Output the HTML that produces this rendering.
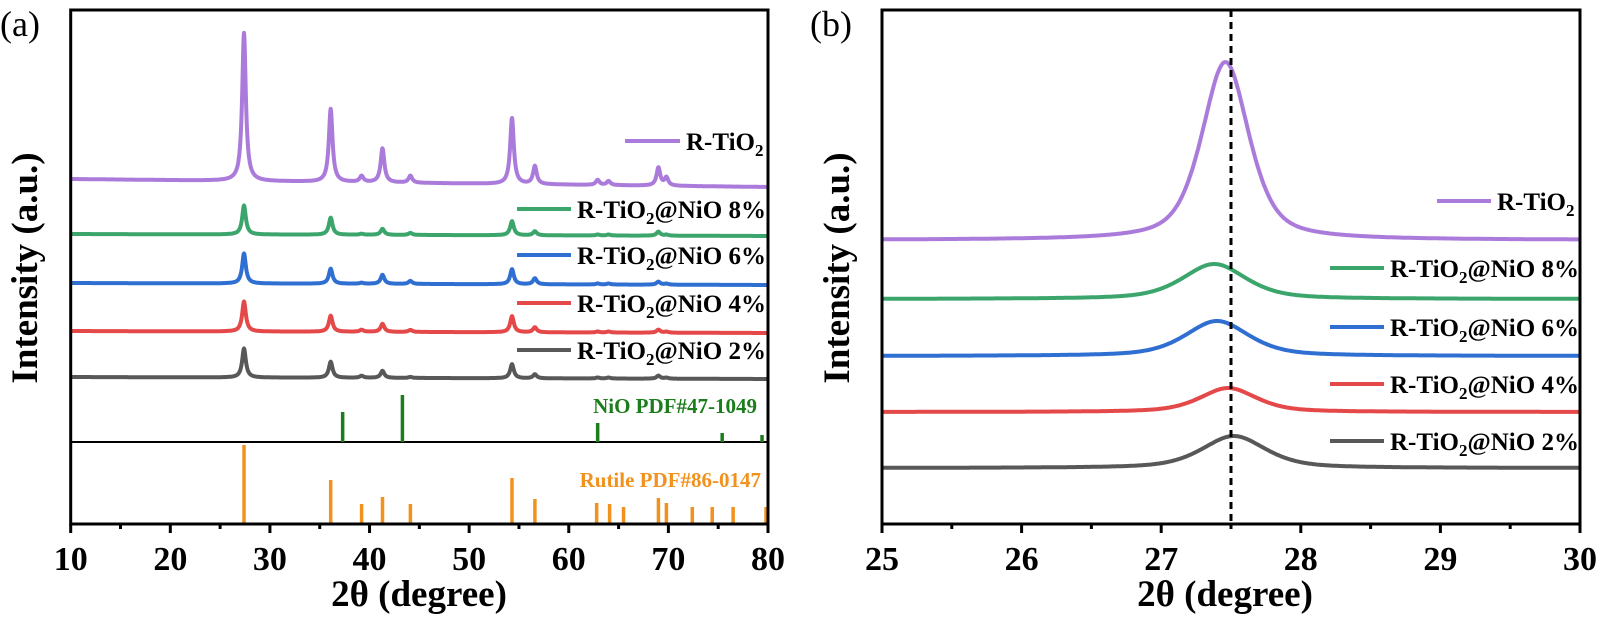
<!DOCTYPE html>
<html><head><meta charset="utf-8">
<style>
html,body{margin:0;padding:0;background:#fff;}
</style></head>
<body>
<svg id="fig" width="1600" height="618" viewBox="0 0 1600 618" xmlns="http://www.w3.org/2000/svg"></svg>
<script>
// ---------- Panel (a) data ----------
const aLabels = ["R-TiO2","R-TiO2@NiO 8%","R-TiO2@NiO 6%","R-TiO2@NiO 4%","R-TiO2@NiO 2%"];
const aColors = ["#ab7bdc","#3ba56c","#2f6fd2","#e44848","#585858"];
const aPeakPos = [27.4, 36.1, 39.2, 41.3, 44.1, 54.3, 56.6, 62.9, 64.0, 69.0, 69.8];
const aBaseStart = [345, 290, 241, 193, 147];
const aBaseEnd = [337, 288, 239, 191, 145];
const aHeights = [
  [148, 73, 6, 34, 7, 66, 18, 5, 4, 18, 8],
  [29, 17, 1, 6, 2, 14, 4, 1, 1, 4, 1],
  [30, 15, 1, 9, 3, 15, 6, 1, 1, 3, 1],
  [30, 16, 2, 8, 2, 16, 5, 1, 1, 3, 1],
  [29, 16, 2, 7, 1, 14, 4, 1, 1, 3, 1]
];
const nioPos = [37.3, 43.3, 62.9, 75.4, 79.4];
const nioInt = [30, 47, 19, 9, 7];
const rutPos = [27.4, 36.1, 39.2, 41.3, 44.1, 54.3, 56.6, 62.8, 64.1, 65.5, 69.0, 69.8, 72.4, 74.4, 76.5, 79.8];
const rutInt = [79, 44, 20, 27, 20, 46, 25, 21, 20, 17, 26, 21, 17, 17, 17, 17];
const aTicks = [10,20,30,40,50,60,70,80];
// ---------- Panel (b) data ----------
const bBase = [284, 225, 168, 112, 56];
const bCenter = [27.46, 27.38, 27.4, 27.48, 27.52];
const bHeight = [178, 35, 35, 24, 32];
const bWidth = [0.2, 0.27, 0.27, 0.24, 0.27];
const bTicks = [25,26,27,28,29,30];

const NS = "http://www.w3.org/2000/svg";
const svg = document.getElementById("fig");
function mk(tag, attrs, parent, text){
  const e = document.createElementNS(NS, tag);
  for (const k in attrs) e.setAttribute(k, attrs[k]);
  if (tag === "text") {
    const bold = attrs["font-weight"] === "bold";
    e.removeAttribute("font-weight");
    e.removeAttribute("font-size");
    e.setAttribute("style", "font-family:'Liberation Serif','Times New Roman',serif;font-size:" + attrs["font-size"] + "px;font-weight:" + (bold ? "bold" : "normal") + ";");
  }
  if (text !== undefined) e.textContent = text;
  (parent || svg).appendChild(e);
  return e;
}
const yTop = 10, yBot = 524;
function yS(v){ return yBot - v; }

function legendText(g, x, y, label){
  const t = mk("text", {x:x, y:y, "font-size":25, "font-weight":"bold", fill:"#000"}, g);
  const m = label.match(/^R-TiO2(.*)$/);
  const s1 = document.createElementNS(NS,"tspan"); s1.textContent = "R-TiO"; t.appendChild(s1);
  const s2 = document.createElementNS(NS,"tspan"); s2.textContent = "2"; s2.setAttribute("style","font-size:17px"); s2.setAttribute("dy","6"); t.appendChild(s2);
  if (m[1]) { const s3 = document.createElementNS(NS,"tspan"); s3.textContent = m[1]; s3.setAttribute("dy","-6"); t.appendChild(s3); }
  return t;
}

function axes(g, x0, x1, ticks, xs, minorStep, tickLabelY){
  mk("rect", {x:x0, y:yTop, width:x1-x0, height:yBot-yTop, fill:"none", stroke:"#000", "stroke-width":3}, g);
  const first = ticks[0], last = ticks[ticks.length-1];
  for (let v = first; v <= last + 1e-9; v += minorStep){
    const major = ticks.some(t => Math.abs(t - v) < 1e-6);
    const x = xs(v);
    const tk = mk("line", {x1:x, x2:x, y1:yBot, y2:yBot + (major ? 9 : 5), stroke:"#000", "stroke-width":3}, g);
    
    
  }
  ticks.forEach(t => {
    const lb = mk("text", {x:xs(t), y:tickLabelY, "text-anchor":"middle", "font-size":34, "font-weight":"bold"}, g, String(t));
    
    
  });
}
function pv(x, c, w){ const d = (x - c) / w; return 0.55 / (1 + d*d) + 0.45 * Math.exp(-0.693 * d * d); }
function lor(x, c, w){ const d = (x - c) / w; return 1 / (1 + d*d); }

// ---------- Panel (a) ----------
const gA = mk("g", {});
const xa0 = 70.7, xa1 = 768;
const xA = v => xa0 + (v - 10) * (xa1 - xa0) / 70;
aLabels.forEach((lab, i) => {
  let d = "";
  for (let x = 10; x <= 80.0001; x += 0.03){
    const f = (x - 10) / 70;
    let v = aBaseStart[i] + (aBaseEnd[i] - aBaseStart[i]) * f;
    aPeakPos.forEach((p, k) => { v += aHeights[i][k] * lor(x, p, 0.22); });
    d += (d ? "L" : "M") + xA(x).toFixed(1) + "," + yS(v).toFixed(1);
  }
  const p = mk("path", {d:d, fill:"none", stroke:aColors[i], "stroke-width":4, "stroke-linejoin":"round"}, gA);
  
  
});
mk("line", {x1:xa0, x2:xa1, y1:442, y2:442, stroke:"#000", "stroke-width":2, }, gA);
nioPos.forEach((p, k) => {
  const l = mk("line", {x1:xA(p), x2:xA(p), y1:442, y2:442 - nioInt[k], stroke:"#1c7d1c", "stroke-width":3.5}, gA);
  
  
});
rutPos.forEach((p, k) => {
  const l = mk("line", {x1:xA(p), x2:xA(p), y1:yBot, y2:yBot - rutInt[k], stroke:"#f2921e", "stroke-width":3.5}, gA);
  
  
});
mk("text", {x:757, y:413, "text-anchor":"end", "font-size":21, "font-weight":"bold", fill:"#1c7d1c", }, gA, "NiO PDF#47-1049");
mk("text", {x:761, y:487, "text-anchor":"end", "font-size":21, "font-weight":"bold", fill:"#f2921e", }, gA, "Rutile PDF#86-0147");
axes(gA, xa0, xa1, aTicks, xA, 5, 570);
const aLegY = [141, 209, 255, 303, 350];
const aLegX = [[625, 680, 686], [517, 571, 577], [517, 571, 577], [517, 571, 577], [517, 571, 577]];
aLabels.forEach((lab, i) => {
  const g = mk("g", {}, gA);
  mk("line", {x1:aLegX[i][0], x2:aLegX[i][1], y1:aLegY[i], y2:aLegY[i], stroke:aColors[i], "stroke-width":4}, g);
  legendText(g, aLegX[i][2], aLegY[i] + 9, lab);
});
mk("text", {x:0, y:36, "font-size":36, }, gA, "(a)");
mk("text", {x:419, y:606, "text-anchor":"middle", "font-size":37, "font-weight":"bold", }, gA, "2θ (degree)");
mk("text", {x:0, y:0, transform:"translate(37,268) rotate(-90)", "text-anchor":"middle", "font-size":37, "font-weight":"bold", }, gA, "Intensity (a.u.)");

// ---------- Panel (b) ----------
const gB = mk("g", {});
const xb0 = 882, xb1 = 1580;
const xB = v => xb0 + (v - 25) * (xb1 - xb0) / 5;
aLabels.forEach((lab, i) => {
  let d = "";
  for (let x = 25; x <= 30.0001; x += 0.008){
    const v = bBase[i] + bHeight[i] * pv(x, bCenter[i], bWidth[i]);
    d += (d ? "L" : "M") + xB(x).toFixed(1) + "," + yS(v).toFixed(1);
  }
  const p = mk("path", {d:d, fill:"none", stroke:aColors[i], "stroke-width":4, "stroke-linejoin":"round"}, gB);
  
  
});
mk("line", {x1:xB(27.5), x2:xB(27.5), y1:yTop, y2:yBot, stroke:"#000", "stroke-width":3, "stroke-dasharray":"7,5", }, gB);
axes(gB, xb0, xb1, bTicks, xB, 0.5, 570);
const bLegY = [201, 268, 327, 384, 441];
const bLegX = [[1437, 1491, 1497], [1330, 1384, 1390], [1330, 1384, 1390], [1330, 1384, 1390], [1330, 1384, 1390]];
aLabels.forEach((lab, i) => {
  const g = mk("g", {}, gB);
  mk("line", {x1:bLegX[i][0], x2:bLegX[i][1], y1:bLegY[i], y2:bLegY[i], stroke:aColors[i], "stroke-width":4}, g);
  legendText(g, bLegX[i][2], bLegY[i] + 9, lab);
});
mk("text", {x:810, y:36, "font-size":36, }, gB, "(b)");
mk("text", {x:1225, y:606, "text-anchor":"middle", "font-size":37, "font-weight":"bold", }, gB, "2θ (degree)");
mk("text", {x:0, y:0, transform:"translate(849,268) rotate(-90)", "text-anchor":"middle", "font-size":37, "font-weight":"bold", }, gB, "Intensity (a.u.)");
</script>
</body></html>
